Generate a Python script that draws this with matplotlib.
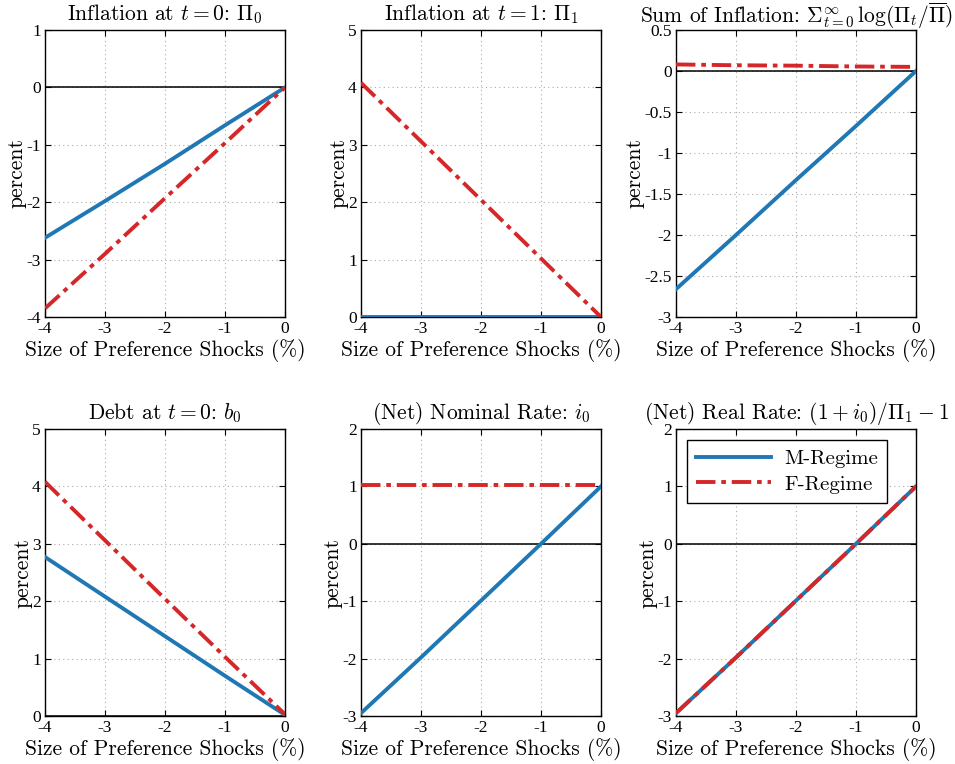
import matplotlib
matplotlib.use("Agg")
import matplotlib.pyplot as plt

plt.rcParams["mathtext.fontset"] = "cm"
plt.rcParams["axes.unicode_minus"] = False

# shock sizes (%)
shock = [-4, -3, -2, -1, 0]

# Inflation at t=0
pi0_m = [-2.62, -1.98, -1.33, -0.66, 0.0]
pi0_f = [-3.85, -2.90, -1.93, -0.97, 0.0]
# Inflation at t=1
pi1_m = [0.0, 0.0, 0.0, 0.0, 0.0]
pi1_f = [4.08, 3.06, 2.04, 1.02, 0.0]
# Sum of inflation
sum_m = [-2.66, -2.0, -1.33, -0.67, 0.0]
sum_f = [0.08, 0.07, 0.065, 0.055, 0.05]
# Debt at t=0
debt_m = [2.77, 2.08, 1.39, 0.70, 0.02]
debt_f = [4.08, 3.06, 2.04, 1.03, 0.03]
# nominal rate
nom_m = [-2.95, -1.98, -0.99, 0.0, 1.0]
nom_f = [1.02, 1.02, 1.02, 1.02, 1.02]
# real rate
real_m = [-2.95, -1.98, -0.99, 0.0, 1.0]
real_f = [-2.95, -1.98, -0.99, 0.0, 1.0]

titles = [
    r"Inflation at $t=0$: $\Pi_0$",
    r"Inflation at $t=1$: $\Pi_1$",
    r"Sum of Inflation: $\Sigma_{t=0}^{\infty}\,\log(\Pi_t/\overline{\Pi})$",
    r"Debt at $t=0$: $b_0$",
    r"(Net) Nominal Rate: $i_0$",
    r"(Net) Real Rate: $(1+i_0)/\Pi_1-1$",
]
series = [(pi0_m, pi0_f), (pi1_m, pi1_f), (sum_m, sum_f),
          (debt_m, debt_f), (nom_m, nom_f), (real_m, real_f)]
ylims = [(-4, 1), (0, 5), (-3, 0.5), (0, 5), (-3, 2), (-3, 2)]
yticks = [
    [-4, -3, -2, -1, 0, 1],
    [0, 1, 2, 3, 4, 5],
    [-3, -2.5, -2, -1.5, -1, -0.5, 0, 0.5],
    [0, 1, 2, 3, 4, 5],
    [-3, -2, -1, 0, 1, 2],
    [-3, -2, -1, 0, 1, 2],
]

blue = "#1f77b4"
red = "#d62728"
W, H = 955, 764
lefts = [45, 361, 676]
bottoms = [317, 716]
aw, ah = 240, 287

fig = plt.figure(figsize=(W / 100, H / 100), dpi=100)
tickfont = "Liberation Serif"
labfont = "cmr10"

for k in range(6):
    r, c = divmod(k, 3)
    ax = fig.add_axes([lefts[c] / W, 1 - bottoms[r] / H, aw / W, ah / H])
    m, f = series[k]
    ax.axhline(0, color="black", lw=1.1, zorder=2)
    l1, = ax.plot(shock, m, color=blue, lw=2.8, label="M-Regime", zorder=3)
    l2, = ax.plot(shock, f, color=red, lw=2.8, ls=(0, (5, 1.5, 1.2, 1.5)),
                  label="F-Regime", zorder=4)
    ax.set_xlim(-4, 0)
    ax.set_ylim(*ylims[k])
    ax.set_xticks(shock)
    ax.set_xticklabels([f"{v:g}" for v in shock], family=tickfont, fontsize=12.5)
    ax.set_yticks(yticks[k])
    ax.set_yticklabels([f"{v:g}" for v in yticks[k]], family=tickfont, fontsize=12.5)
    ax.tick_params(direction="in", top=True, right=True, length=4, width=0.8, pad=3)
    ax.grid(True, ls=(0, (1, 3)), color="#aaaaaa", lw=0.8)
    for s in ax.spines.values():
        s.set_linewidth(1.0)
    ax.set_title(titles[k], family=labfont, fontsize=15.5, pad=7 if k != 2 else 5)
    ax.set_xlabel("Size of Preference Shocks (%)", family=labfont, fontsize=15.5, labelpad=1)
    ax.set_ylabel("percent", family=labfont, fontsize=15.5, labelpad=0)
    if k == 5:
        leg = ax.legend(handles=[l1, l2], loc="upper left", bbox_to_anchor=(0.046, 0.962),
                        borderaxespad=0,
                        prop={"family": labfont, "size": 15}, fancybox=False,
                        edgecolor="black", framealpha=1, handlelength=3.6,
                        borderpad=0.45, labelspacing=0.35, handletextpad=0.6)
        leg.get_frame().set_linewidth(1.0)

fig.savefig("out.png", dpi=100)
